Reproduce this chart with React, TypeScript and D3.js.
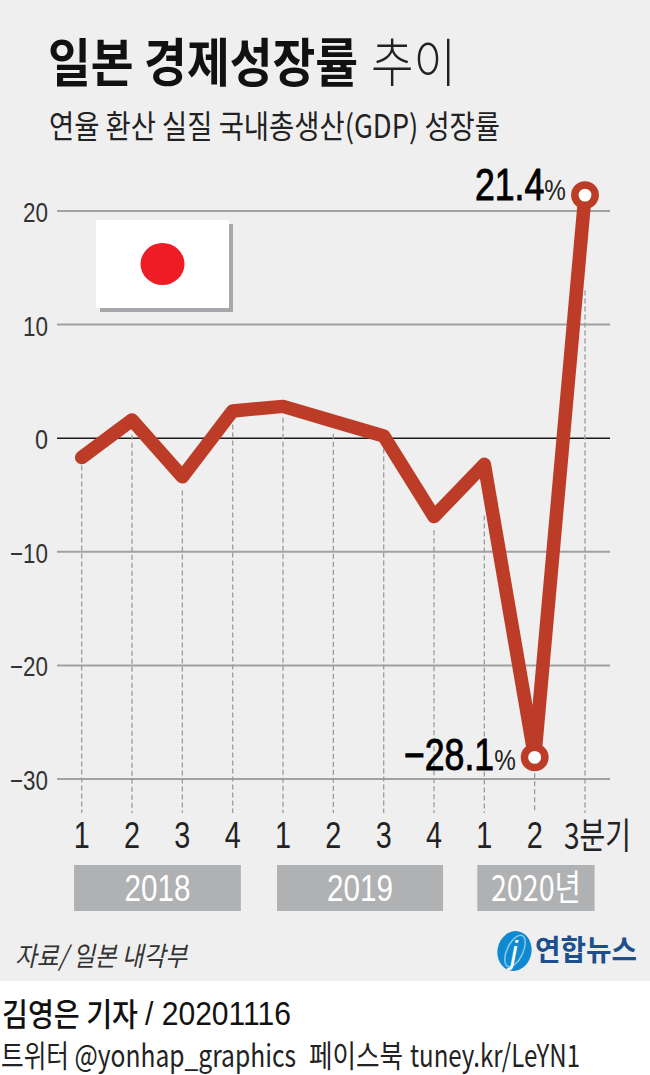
import React from "react";
import * as d3 from "d3";

const quarters = ["1","2","3","4","1","2","3","4","1","2","3분기"];
const growth = [-1.7,1.6,-3.4,2.4,2.8,1.5,0.2,-6.9,-2.3,-28.1,21.4];
const dashTopValues = [-2.4,0.3,-4.6,1.2,1.8,0.4,-0.9,-8.1,-6.8,-29.5,13.0];
const yTicks = [20,10,0,-10,-20,-30];
const years = [
  {label:"2018",from:-0.152,to:3.163,w:66},
  {label:"2019",from:3.88,to:7.18,w:66},
  {label:"2020년",from:7.86,to:10.19,w:90},
];

const KR = "'Noto Sans CJK KR', sans-serif";
const LAT = "'Liberation Sans', sans-serif";

function T({x,y,w,size,anchor="start",fill="#111",weight=400,family=KR,style,children}:any){
  return <text x={x} y={y} textLength={w} lengthAdjust="spacingAndGlyphs" fontSize={size} textAnchor={anchor}
    fill={fill} fontWeight={weight} fontFamily={family} fontStyle={style}>{children}</text>;
}

function Callout({x,y,value}:any){
  return (
    <text transform={`translate(${x},${y}) scale(0.81,1)`} fontFamily={LAT} fill="#000">
      <tspan fontSize={44} stroke="#000" strokeWidth={0.9}>{value}</tspan>
      <tspan fontSize={30} fill="#222">%</tspan>
    </text>
  );
}

export default function App(){
  const x = d3.scaleLinear().domain([0,10]).range([81.7,585]);
  const y = d3.scaleLinear().domain([20,-30]).range([211,779]);
  const line = d3.line<number>().x((_,i)=>x(i)).y(d=>y(d));
  const last = growth.length-1, low = last-1;
  return (
    <svg width={650} height={1075} style={{position:"absolute",left:0,top:0,background:"#fff"}}>
      <rect x={0} y={0} width={650} height={981} fill="#efefef"/>
      <T x={48} y={82} w={310} size={52} weight={700}>일본 경제성장률</T>
      <T x={371} y={82} w={85} size={52} weight={300} fill="#222">추이</T>
      <T x={49} y={138} w={451} size={32} weight={400} fill="#222">연율 환산 실질 국내총생산(GDP) 성장률</T>

      <g>
        {yTicks.map(t=>(
          <g key={t}>
            <line x1={57} x2={610} y1={y(t)} y2={y(t)} stroke={t===0?"#1a1a1a":"#a0a1a4"} strokeWidth={t===0?1.5:2}/>
            <T x={48} y={y(t)+11} size={28} anchor="end" w={t===0?13:t<0?38:25} family={LAT} fill="#333">{t<0?`−${-t}`:`${t}`}</T>
          </g>
        ))}
      </g>

      <rect x={100} y={224} width={133} height={88} fill="#a7a8ab"/>
      <rect x={96} y={220} width={133} height={88} fill="#fff"/>
      <ellipse cx={162.5} cy={264} rx={22} ry={21} fill="#ee1c25"/>

      {growth.map((_,i)=>(
        <line key={i} x1={x(i)} x2={x(i)} y1={y(dashTopValues[i])} y2={813} stroke="#9a9b9e" strokeWidth={1.3} strokeDasharray="5 3"/>
      ))}

      <path d={line(growth) ?? ""} fill="none" stroke="#bc3c27" strokeWidth={13.5} strokeLinejoin="round" strokeLinecap="round"/>
      {[low,last].map(i=>(
        <circle key={i} cx={x(i)} cy={y(growth[i])} r={10.2} fill="#fff" stroke="#bc3c27" strokeWidth={7.5}/>
      ))}

      <Callout x={475} y={200} value="21.4"/>
      <Callout x={404} y={770} value="−28.1"/>

      {quarters.map((q,i)=> i<last ? (
        <T key={i} x={x(i)} y={848} size={36} anchor="middle" w={16} family={LAT} fill="#222">{q}</T>
      ) : null)}
      <T x={564} y={849} size={36} w={67} fill="#222" family={KR}>{quarters[last]}</T>

      {years.map(yr=>{
        const x0=x(yr.from), x1=x(yr.to);
        return (
          <g key={yr.label}>
            <rect x={x0} y={865} width={x1-x0} height={46} fill="#b0b1b3"/>
            <T x={(x0+x1)/2} y={901} size={36} anchor="middle" w={yr.w} fill="#fff" family={yr.w>66?KR:LAT}>{yr.label}</T>
          </g>
        );
      })}

      <T x={15} y={966} w={172} size={27} style="italic" fill="#333">자료/ 일본 내각부</T>

      <ellipse cx={514.5} cy={951} rx={17} ry={20} fill="#0f8ad0" transform="rotate(12 514.5 951)"/>
      <ellipse cx={515} cy={951} rx={8} ry={17} fill="none" stroke="#8cc8ea" strokeWidth={1.5} transform="rotate(25 515 951)"/>
      <text x={514} y={963} fontSize={32} fontStyle="italic" fontFamily={LAT} fill="#fff" textAnchor="middle">j</text>
      <T x={535} y={961} w={102} size={29} weight={700} fill="#1d4f8c">연합뉴스</T>

      <T x={2} y={1026} w={136} size={32} weight={500} fill="#111">김영은 기자</T>
      <T x={145} y={1025} w={146} size={33} family={LAT} fill="#111">/ 20201116</T>
      <T x={1} y={1067} w={295} size={31} fill="#222">트위터 @yonhap_graphics</T>
      <T x={309} y={1067} w={94} size={31} fill="#222">페이스북</T>
      <T x={410} y={1067} w={170} size={31} fill="#222">tuney.kr/LeYN1</T>
    </svg>
  );
}
